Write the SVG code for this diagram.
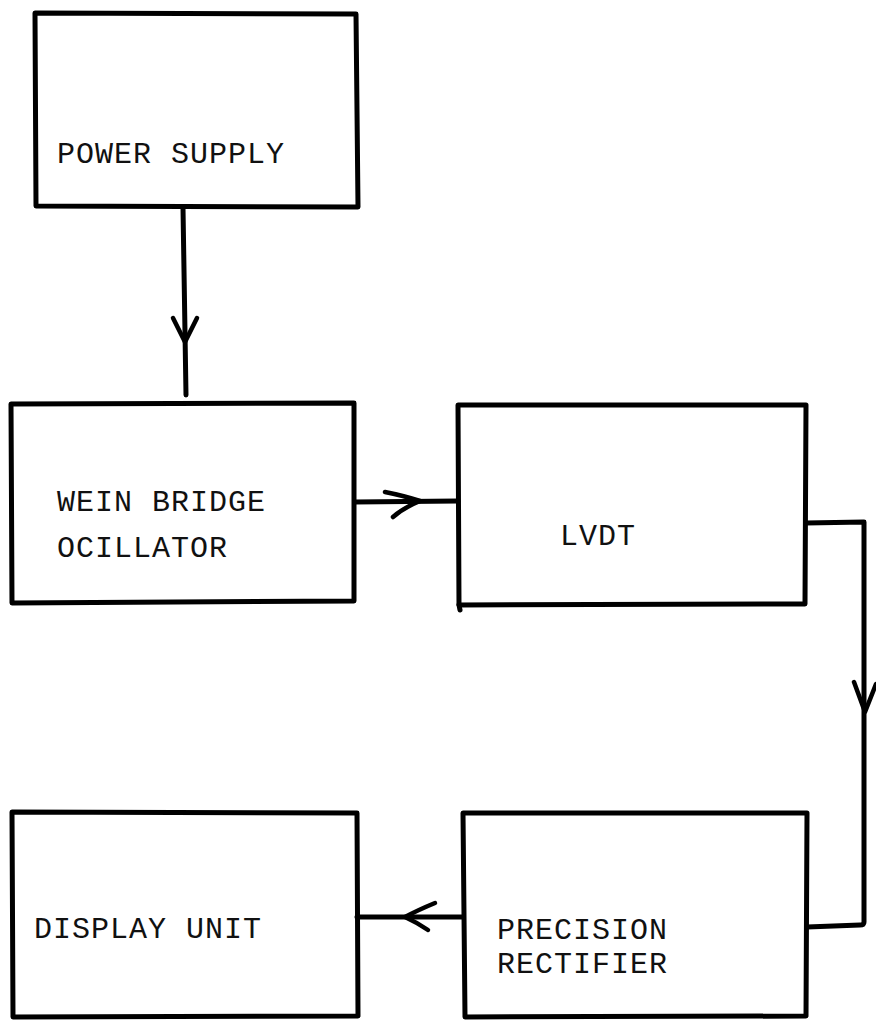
<svg xmlns="http://www.w3.org/2000/svg" width="876" height="1020" viewBox="0 0 876 1020">
<style>
.box{fill:none;stroke:#000;stroke-width:5;stroke-linejoin:round;stroke-linecap:round}
.wire{fill:none;stroke:#000;stroke-width:5;stroke-linejoin:round;stroke-linecap:round}
.head{fill:none;stroke:#000;stroke-width:4.5;stroke-linecap:round;stroke-linejoin:round}
.lbl{font-family:"Liberation Mono","Courier New",monospace;font-size:30px;letter-spacing:1px;fill:#111}
</style>
<rect width="876" height="1020" fill="#fff"/>
<g id="power-supply">
<path class="box" d="M35,13 L356,14 L358,207 L36,206 Z"/>
<text class="lbl" x="57" y="163">POWER SUPPLY</text>
</g>
<g id="wein-bridge">
<path class="box" d="M11,404 L354,403 L354,601 L12,603 Z"/>
<text class="lbl" x="57" y="511">WEIN BRIDGE</text>
<text class="lbl" x="57" y="557">OCILLATOR</text>
</g>
<g id="lvdt">
<path class="box" d="M458,405 L806,405 L805,604 L459,605 Z"/>
<path class="box" d="M459,605 L460,610"/>
<text class="lbl" x="560" y="545">LVDT</text>
</g>
<g id="precision-rectifier">
<path class="box" d="M463,813 L807,813 L806,1016 L465,1017 Z"/>
<text class="lbl" x="497" y="939">PRECISION</text>
<text class="lbl" x="497" y="973">RECTIFIER</text>
</g>
<g id="display-unit">
<path class="box" d="M12,812 L357,813 L358,1016 L13,1017 Z"/>
<text class="lbl" x="34" y="938">DISPLAY UNIT</text>
</g>
<g id="connectors">
<path class="wire" d="M183,208 L186,395"/>
<path class="head" d="M173,318 L185,342 L197,318"/>
<path class="wire" d="M355,502 L458,501"/>
<path class="head" d="M385,492 Q405,496 420,501 Q403,508 393,517"/>
<path class="wire" d="M806,523 L864,522 L864,922 Q864,925 860,925 L807,927"/>
<path class="head" d="M854,682 L865,712 L876,684"/>
<path class="wire" d="M463,917 L357,917"/>
<path class="head" d="M435,903 Q418,910 405,917 Q418,923 428,930"/>
</g>
</svg>
